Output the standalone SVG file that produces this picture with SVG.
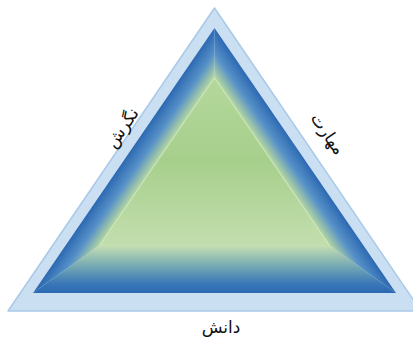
<svg xmlns="http://www.w3.org/2000/svg" width="413" height="342" viewBox="0 0 413 342">
<defs>
<style>
.lbl{font-family:"DejaVu Sans","Noto Sans",sans-serif;font-size:17px;fill:#111;text-anchor:middle}
</style>
<linearGradient id="gL" gradientUnits="userSpaceOnUse" x1="214.5" y1="28" x2="237.6" y2="43.8">
<stop offset="0" stop-color="#2d69b2"/>
<stop offset="0.5" stop-color="#5791c8"/>
<stop offset="1" stop-color="#b6d89f"/>
</linearGradient>
<linearGradient id="gR" gradientUnits="userSpaceOnUse" x1="214.5" y1="28" x2="191.4" y2="43.8">
<stop offset="0" stop-color="#2d69b2"/>
<stop offset="0.5" stop-color="#5791c8"/>
<stop offset="1" stop-color="#b6d89f"/>
</linearGradient>
<linearGradient id="gB" gradientUnits="userSpaceOnUse" x1="0" y1="293" x2="0" y2="245">
<stop offset="0" stop-color="#2c68b1"/>
<stop offset="0.2" stop-color="#3a78b8"/>
<stop offset="0.55" stop-color="#74a8b3"/>
<stop offset="1" stop-color="#c6e0b2"/>
</linearGradient>
<linearGradient id="gC" gradientUnits="userSpaceOnUse" x1="0" y1="77" x2="0" y2="245">
<stop offset="0" stop-color="#b4d89c"/>
<stop offset="0.5" stop-color="#a7cf8c"/>
<stop offset="1" stop-color="#c3deae"/>
</linearGradient>
</defs>
<g id="outer">
<polygon points="214.5,8 8,311 421,311" fill="#cadff2" stroke="#a9c9e9" stroke-width="1.5" stroke-linejoin="round"/>
</g>
<g id="pyramid">
<polygon points="214.5,28 33,293 99.8,245 214.5,77.6" fill="url(#gL)"/>
<polygon points="214.5,28 396,293 329.2,245 214.5,77.6" fill="url(#gR)"/>
<polygon points="33,293 396,293 329.2,245 99.8,245" fill="url(#gB)"/>
<polygon points="214.5,77.6 99.8,245 329.2,245" fill="url(#gC)"/>
<polyline points="99.8,245 214.5,77.6 329.2,245" fill="none" stroke="#d2e8c2" stroke-width="1.5" stroke-opacity="0.6"/>
</g>
<g id="labels">
<text class="lbl" transform="translate(127,131) rotate(-55.6)" direction="rtl">نگرش</text>
<text class="lbl" transform="translate(323,137) rotate(55.6)" direction="rtl">مهارت</text>
<text class="lbl" x="221" y="333" direction="rtl">دانش</text>
</g>
</svg>
